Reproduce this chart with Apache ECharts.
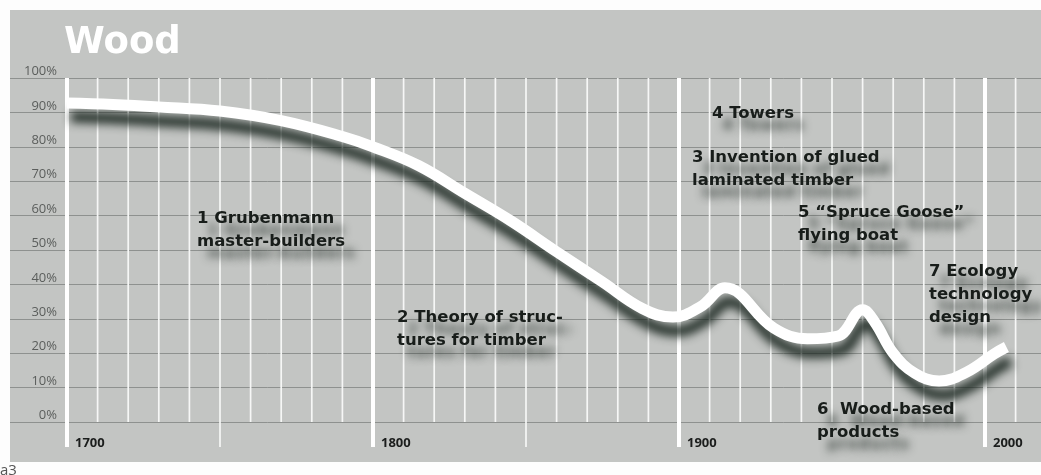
<!DOCTYPE html>
<html>
<head>
<meta charset="utf-8">
<title>Wood</title>
<script src="https://cdn.jsdelivr.net/npm/echarts@6/dist/echarts.min.js"></script>
<style>
  body { margin: 0; background: #fdfdfd; }
  #chart { width: 1041px; height: 475px; }
</style>
</head>
<body>
<div id="chart"></div>
<script>
// share of wood in building (year, percent)
var years  = [1700, 1715, 1730, 1750, 1770, 1790, 1800, 1815, 1830, 1845, 1860, 1875, 1888, 1898,
              1907, 1915, 1931, 1942, 1952, 1960, 1964, 1970, 1977, 1985, 1994, 2003, 2007];
var shares = [92.7, 92.3, 91.6, 90.4, 87.6, 83, 80, 74.5, 66.5, 58.5, 49.5, 40.7, 33, 30.5,
              33.5, 39, 27.3, 24.2, 25, 32.6, 29, 20, 14.2, 11.9, 14.5, 19.8, 21.8];

// vertical grid: every decade, the long ones reach below the 0% line
var decades = [1700, 1710, 1720, 1730, 1740, 1750, 1760, 1770, 1780, 1790, 1800, 1810, 1820, 1830,
               1840, 1850, 1860, 1870, 1880, 1890, 1900, 1910, 1920, 1930, 1940, 1950, 1960, 1970,
               1980, 1990, 2000, 2010];
var longYears = [1700, 1750, 1800, 1850, 1900, 2000];

// notes printed on the chart
var notes = [
    '1 Grubenmann\nmaster-builders',
    '2 Theory of struc-\ntures for timber',
    '3 Invention of glued\nlaminated timber',
    '4 Towers',
    '5 \u201cSpruce Goose\u201d\nflying boat',
    '6  Wood-based\nproducts',
    '7 Ecology\ntechnology\ndesign'
];
var notePos = [[197, 207], [397, 306], [692, 146], [712, 102], [798, 201], [817, 398], [929, 260]];

var chart = echarts.init(document.getElementById('chart'));

var Y_BOTTOM = -7.27; // axis value at the foot of the long lines

var series = [];
series.push({
    type: 'custom',
    xAxisIndex: 1,
    yAxisIndex: 1,
    z: 1,
    silent: true,
    data: decades.map(function (d) { return [d, 0]; }),
    renderItem: function (params, api) {
        var yr = api.value(0);
        var isLong = longYears.indexOf(yr) >= 0;
        var p1 = api.coord([yr, 100]);
        var p2 = api.coord([yr, isLong ? Y_BOTTOM : 0]);
        return {
            type: 'line',
            shape: { x1: p1[0], y1: p1[1], x2: p2[0], y2: p2[1] },
            style: { stroke: yr % 100 === 0 ? '#ffffff' : '#f6f7f6', lineWidth: yr % 100 === 0 ? 4 : 1.7 }
        };
    }
});
series.push({
    name: 'Wood',
    type: 'line',
    xAxisIndex: 1,
    yAxisIndex: 1,
    z: 5,
    smooth: 0.4,
    showSymbol: false,
    clip: false,
    data: years.map(function (y, i) { return [y, shares[i]]; }),
    lineStyle: {
        color: '#ffffff',
        width: 11,
        shadowColor: 'rgba(20, 32, 26, 0.9)',
        shadowBlur: 10,
        shadowOffsetX: 4,
        shadowOffsetY: 14
    }
});

var graphics = [
    { type: 'rect', z: -100, shape: { x: 10, y: 10, width: 1031, height: 452 }, style: { fill: '#c3c5c3' } },
    { type: 'text', x: 64, y: 25, style: { text: 'Wood', fill: '#ffffff', font: 'bold 37px "DejaVu Sans"', textVerticalAlign: 'top' } },
    { type: 'text', x: 0, y: 463, style: { text: 'a3', fill: '#555', font: '15px "Open Sans"', textVerticalAlign: 'top' } }
];
notes.forEach(function (t, i) {
    graphics.push({
        type: 'text',
        x: notePos[i][0],
        y: notePos[i][1],
        z: 10,
        style: {
            text: t,
            fill: '#181d1a',
            font: 'bold 16.5px "DejaVu Sans"',
            lineHeight: 23,
            textVerticalAlign: 'top',
            textShadowColor: 'rgba(25, 35, 30, 0.7)',
            textShadowBlur: 9,
            textShadowOffsetX: 10,
            textShadowOffsetY: 12
        }
    });
});

var option = {
    animation: false,
    graphic: graphics,
    grid: [
        { left: 10, right: 0, top: 78, bottom: 53, outerBoundsMode: 'none' },
        { left: 67, right: 0, top: 78, bottom: 28, outerBoundsMode: 'none' }
    ],
    xAxis: [
        { gridIndex: 0, type: 'value', show: false, min: 0, max: 1 },
        {
            gridIndex: 1,
            type: 'value',
            min: 1700,
            max: 2018.3,
            interval: 10,
            axisLine: { show: false },
            axisTick: { show: false },
            splitLine: { show: false },
            axisLabel: {
                interval: 0,
                margin: -10,
                align: 'left',
                padding: [0, 0, 0, 8],
                color: '#1b1d1c',
                fontFamily: 'Open Sans',
                fontWeight: 'bold',
                fontSize: 13,
                formatter: function (v) { return v % 100 === 0 ? String(v) : ''; }
            }
        }
    ],
    yAxis: [
        {
            gridIndex: 0,
            type: 'value',
            min: 0,
            max: 100,
            interval: 10,
            axisLine: { show: false },
            axisTick: { show: false },
            splitLine: { lineStyle: { color: '#8e918f', width: 1 } },
            axisLabel: {
                margin: -47,
                verticalAlign: 'bottom',
                color: '#5b5e5c',
                fontFamily: 'Open Sans',
                fontSize: 13,
                formatter: '{value}%'
            }
        },
        { gridIndex: 1, type: 'value', show: false, min: Y_BOTTOM, max: 100 }
    ],
    series: series
};
chart.setOption(option);
</script>
</body>
</html>
